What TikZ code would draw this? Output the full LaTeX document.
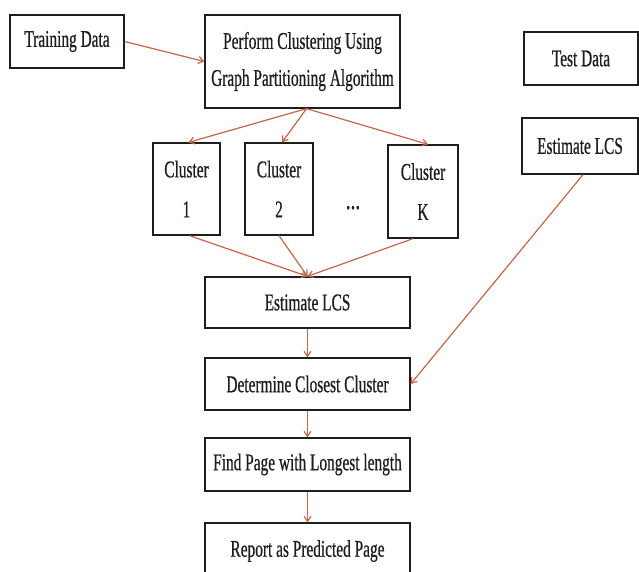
\documentclass[tikz,border=0pt]{standalone}
\usepackage{fontspec}
\newfontfamily\cond[FakeStretch=0.64,FakeBold=0.6]{Liberation Serif}
\usetikzlibrary{arrows.meta,positioning}
\definecolor{arr}{RGB}{192,104,74}
\definecolor{ink}{RGB}{30,30,30}
\begin{document}
\begin{tikzpicture}[x=1pt,y=-1pt,
  box/.style={draw=ink,line width=1.3pt,inner sep=0pt,align=center,text=ink,
    font=\cond\fontsize{24}{38}\selectfont},
  conn/.style={draw=arr,line width=1.2pt,-{Straight Barb[length=5pt,width=7pt]}}]
\useasboundingbox (0,0) rectangle (639,572);
\fill[white] (0,0) rectangle (639,572);
\node[box,minimum width=114pt,minimum height=53pt] (train) at (67,41.5) {Training Data};
\node[box,minimum width=195pt,minimum height=93pt,font=\cond\fontsize{24}{37}\selectfont] (perform) at (302.5,61.5) {Perform Clustering Using\\Graph Partitioning Algorithm};
\node[box,minimum width=114pt,minimum height=53pt] (test) at (581,58.5) {Test Data};
\node[box,minimum width=116pt,minimum height=56pt] (estR) at (580,146) {Estimate LCS};
\node[box,minimum width=67pt,minimum height=92pt,font=\cond\fontsize{24}{40}\selectfont] (c1) at (186.5,189) {Cluster\\1};
\node[box,minimum width=68pt,minimum height=92pt,font=\cond\fontsize{24}{40}\selectfont] (c2) at (279,189) {Cluster\\2};
\node[box,minimum width=70pt,minimum height=93pt,font=\cond\fontsize{24}{40}\selectfont] (cK) at (423,191.5) {Cluster\\K};
\node[text=ink,font=\cond\fontsize{30}{30}\selectfont,inner sep=0pt,anchor=base] (dots) at (353,209) {...};
\node[box,minimum width=205pt,minimum height=51pt] (est) at (307.5,302.5) {Estimate LCS};
\node[box,minimum width=205pt,minimum height=52pt] (det) at (307.5,384) {Determine Closest Cluster};
\node[box,minimum width=205pt,minimum height=53pt] (find) at (307.5,464.5) {Find Page with Longest length};
\node[box,minimum width=205pt,minimum height=56pt] (report) at (307.5,551) {Report as Predicted Page};
\draw[conn] (train.east) -- (perform.west);
\draw[conn] ([xshift=4pt]perform.south) -- ([xshift=2pt]c1.north);
\draw[conn] ([xshift=4pt]perform.south) -- ([xshift=3pt]c2.north);
\draw[conn] ([xshift=4pt]perform.south) -- ([xshift=5pt]cK.north);
\draw[conn] ([xshift=3pt]c1.south) -- (est.north);
\draw[conn] (c2.south) -- (est.north);
\draw[conn] ([xshift=-10pt]cK.south) -- (est.north);
\draw[conn] (est.south) -- (det.north);
\draw[conn] (det.south) -- (find.north);
\draw[conn] (find.south) -- (report.north);
\draw[conn] ([xshift=3pt]estR.south) -- (det.east);
\end{tikzpicture}
\end{document}
